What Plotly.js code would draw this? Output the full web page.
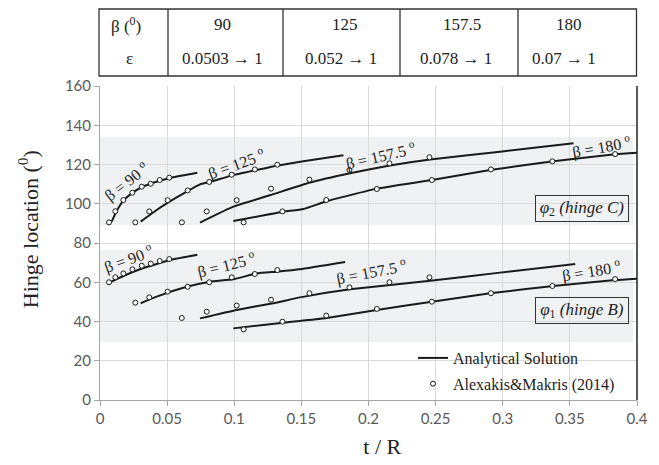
<!DOCTYPE html>
<html>
<head>
<meta charset="utf-8">
<script src="https://cdn.plot.ly/plotly-3.0.1.min.js"></script>
<style>html,body{margin:0;padding:0;background:#fff;}#chart{width:659px;height:465px;}</style>
</head>
<body>
<div id="chart"></div>
<script>
// ---- Table contents ----
const tableHeader = ['β (<sup>0</sup>)', 'ε'];
const tableBeta = ['90', '125', '157.5', '180'];
const tableEps = ['0.0503 → 1', '0.052 → 1', '0.078 → 1', '0.07 → 1'];

// ---- Curve labels ----
const betaLabels = ['β = 90 <sup>o</sup>', 'β = 125 <sup>o</sup>', 'β = 157.5 <sup>o</sup>', 'β = 180 <sup>o</sup>'];
const hingeLabels = ['<i>φ</i><sub>2</sub><i> (hinge C)</i>', '<i>φ</i><sub>1</sub><i> (hinge B)</i>'];

// ---- Analytical solution, hinge C (phi2) ----
const u90x  = [0.0087, 0.0124, 0.0174, 0.0236, 0.031, 0.042, 0.0546, 0.0725];
const u90y  = [90.9, 96.3, 101.6, 105.3, 108.4, 111.2, 113.5, 115.8];
const u125x = [0.0303, 0.0422, 0.0497, 0.0646, 0.0745, 0.082, 0.0993, 0.1167, 0.1316, 0.149, 0.1813];
const u125y = [90.9, 96.8, 100.2, 106.2, 109.9, 111.2, 114.6, 117.2, 119.4, 121.4, 124.7];
const u157x = [0.0745, 0.0993, 0.1266, 0.1565, 0.1863, 0.216, 0.246, 0.298, 0.3527];
const u157y = [90.4, 98.5, 104.3, 110.8, 115.5, 119.5, 122.6, 126.5, 130.8];
const u180x = [0.0993, 0.1366, 0.1515, 0.1689, 0.2062, 0.2472, 0.2906, 0.3377, 0.3837, 0.4];
const u180y = [91.2, 95.9, 97.3, 101.3, 107.7, 112.1, 117.2, 121.6, 125.2, 126.0];

// ---- Alexakis & Makris (2014), hinge C ----
const d_u90x  = [0.0067, 0.0114, 0.0174, 0.0241, 0.0311, 0.0378, 0.0445, 0.0516];
const d_u90y  = [90.5, 96.2, 101.9, 105.6, 108.7, 110.2, 112.1, 113.3];
const d_u125x = [0.0263, 0.0367, 0.0504, 0.0653, 0.0814, 0.0981, 0.1153, 0.1321];
const d_u125y = [90.5, 96.1, 101.8, 106.8, 111.1, 114.8, 117.5, 119.9];
const d_u157x = [0.061, 0.0795, 0.1018, 0.1274, 0.156, 0.1858, 0.2156, 0.2454];
const d_u157y = [90.5, 96.1, 101.8, 107.7, 112.3, 117.2, 120.6, 123.7];
const d_u180x = [0.107, 0.1359, 0.1685, 0.2062, 0.2472, 0.2912, 0.337, 0.3837];
const d_u180y = [90.5, 96.1, 101.9, 107.5, 112.1, 117.5, 121.6, 125.3];

// ---- Analytical solution, hinge B (phi1) ----
const l90x  = [0.0069, 0.0174, 0.0298, 0.0422, 0.0546, 0.0725];
const l90y  = [59.8, 63.2, 66.6, 69.3, 71.7, 74.0];
const l125x = [0.0303, 0.0422, 0.0646, 0.082, 0.0993, 0.1167, 0.1316, 0.149, 0.1826];
const l125y = [49.3, 52.7, 57.7, 60.3, 61.5, 64.5, 65.4, 66.6, 70.3];
const l157x = [0.0745, 0.1018, 0.1291, 0.149, 0.1863, 0.246, 0.298, 0.354];
const l157y = [41.6, 45.9, 49.3, 52.3, 56.4, 60.8, 64.9, 69.3];
const l180x = [0.0993, 0.1366, 0.149, 0.1689, 0.2062, 0.2472, 0.2906, 0.3377, 0.3837, 0.4];
const l180y = [36.5, 39.4, 40.3, 41.8, 45.9, 50.1, 54.4, 58.1, 61.1, 61.8];

// ---- Alexakis & Makris (2014), hinge B ----
const d_l90x  = [0.0067, 0.0114, 0.0174, 0.0241, 0.0311, 0.0378, 0.0445, 0.0516];
const d_l90y  = [60.0, 62.5, 64.5, 66.6, 68.4, 69.5, 70.8, 71.8];
const d_l125x = [0.0263, 0.0367, 0.0504, 0.0653, 0.0814, 0.0981, 0.1153, 0.1321];
const d_l125y = [49.6, 52.3, 55.2, 57.7, 60.0, 62.5, 64.2, 66.2];
const d_l157x = [0.0609, 0.0795, 0.1018, 0.1274, 0.156, 0.1858, 0.2156, 0.2454];
const d_l157y = [41.8, 45.0, 48.1, 51.1, 54.4, 57.4, 60.0, 62.5];
const d_l180x = [0.107, 0.1359, 0.1685, 0.2062, 0.2472, 0.2912, 0.337, 0.3837];
const d_l180y = [36.0, 39.9, 43.0, 46.4, 50.1, 54.4, 58.1, 61.6];

const xTicks = [0, 0.05, 0.1, 0.15, 0.2, 0.25, 0.3, 0.35, 0.4];
const xTickText = ['0', '0.05', '0.1', '0.15', '0.2', '0.25', '0.3', '0.35', '0.4'];
const yTicks = [0, 20, 40, 60, 80, 100, 120, 140, 160];

// ---------------------------------------------
const SERIF = '"Liberation Serif", "Times New Roman", serif';
const SANS = 'Lato, "Open Sans", sans-serif';
const INK = '#1a1a1a';

const lineSets = [[u90x,u90y],[u125x,u125y],[u157x,u157y],[u180x,u180y],[l90x,l90y],[l125x,l125y],[l157x,l157y],[l180x,l180y]];
const dotSets = [[d_u90x,d_u90y],[d_u125x,d_u125y],[d_u157x,d_u157y],[d_u180x,d_u180y],[d_l90x,d_l90y],[d_l125x,d_l125y],[d_l157x,d_l157y],[d_l180x,d_l180y]];

const traces = [];
lineSets.forEach((s, i) => traces.push({
  x: s[0], y: s[1], type: 'scatter', mode: 'lines',
  line: {color: INK, width: 2, shape: 'spline', smoothing: 0.4},
  name: 'Analytical Solution', legendgroup: 'a', showlegend: i === 0, hoverinfo: 'skip'
}));
dotSets.forEach((s, i) => traces.push({
  x: s[0], y: s[1], type: 'scatter', mode: 'markers',
  marker: {symbol: 'circle', size: 5, color: '#ffffff', line: {color: INK, width: 1}},
  name: 'Alexakis&Makris (2014)', legendgroup: 'b', showlegend: i === 0, hoverinfo: 'skip'
}));

// pixel helpers for paper coords (plot area: x 100..637, y 86..400)
const px = v => (v - 100) / 537;
const py = v => (400 - v) / 314;

const shapes = [
  {type: 'rect', xref: 'paper', yref: 'y', x0: 0, x1: 0.993, y0: 89, y1: 134, fillcolor: '#f0f1f3', line: {width: 0}, layer: 'below'},
  {type: 'rect', xref: 'paper', yref: 'y', x0: 0, x1: 0.993, y0: 29.5, y1: 76.5, fillcolor: '#f0f1f3', line: {width: 0}, layer: 'below'},
  {type: 'line', xref: 'paper', yref: 'paper', x0: 1, x1: 1, y0: 0, y1: 1, line: {color: '#222', width: 1.5}},
  {type: 'rect', xref: 'paper', yref: 'paper', x0: px(99), x1: px(636.5), y0: py(76), y1: py(9), line: {color: '#333', width: 1.3}, fillcolor: 'rgba(0,0,0,0)'}
];
[168, 283, 400, 518].forEach(c => shapes.push({type: 'line', xref: 'paper', yref: 'paper', x0: px(c), x1: px(c), y0: py(76), y1: py(9), line: {color: '#333', width: 1.3}}));

const annotations = [];
const tFont = {family: SERIF, size: 17, color: '#222'};
const cell = (x, y, t) => ({xref: 'paper', yref: 'paper', x: px(x), y: py(y), xanchor: 'center', yanchor: 'middle', text: t, showarrow: false, font: tFont});
annotations.push(cell(126, 25, tableHeader[0]));
annotations.push(cell(129, 59, tableHeader[1]));
const betaCx = [222, 345, 461.5, 568.5];
const epsCx = [222, 341, 455.5, 564];
tableBeta.forEach((t, i) => annotations.push(cell(betaCx[i], 25, t)));
tableEps.forEach((t, i) => annotations.push(cell(epsCx[i], 59, t)));

// curve labels (positions in data space)
const lblFont = {family: SERIF, size: 16, color: '#222'};
const labelPos = [
  [0.0194, 111.2, -38, 0], [0.1018, 120.3, -20, 1], [0.2086, 124.8, -13, 2], [0.3737, 129.4, -10, 3],
  [0.0211, 72.2, -20, 0], [0.0944, 68.8, -14, 1], [0.2024, 65.4, -11, 2], [0.3663, 65.9, -9, 3]
];
labelPos.forEach(p => annotations.push({x: p[0], y: p[1], xanchor: 'center', yanchor: 'middle', text: betaLabels[p[3]], textangle: p[2], showarrow: false, font: lblFont}));

[[0.359, 97.8, 0], [0.359, 45.4, 1]].forEach(p => annotations.push({
  x: p[0], y: p[1], xanchor: 'center', yanchor: 'middle', text: hingeLabels[p[2]], showarrow: false,
  font: {family: SERIF, size: 17, color: '#222'},
  bordercolor: '#333', borderwidth: 1, borderpad: 2, width: 88, height: 21
}));

const layout = {
  width: 659, height: 465,
  margin: {l: 100, r: 22, t: 86, b: 65, pad: 0},
  paper_bgcolor: '#ffffff', plot_bgcolor: 'rgba(0,0,0,0)',
  showlegend: true,
  legend: {x: px(413), y: py(341), xanchor: 'left', yanchor: 'top', bgcolor: 'rgba(0,0,0,0)',
           font: {family: SERIF, size: 16, color: '#222'}, tracegroupgap: 2},
  xaxis: {
    range: [0, 0.4], tickvals: xTicks, ticktext: xTickText,
    showgrid: true, gridcolor: '#d9d9d9', gridwidth: 1,
    showline: true, linecolor: '#a6a6a6', linewidth: 1,
    ticks: 'outside', ticklen: 5, tickcolor: '#a6a6a6',
    tickfont: {family: SANS, size: 15, color: '#595959'},
    zeroline: false,
    title: {text: '&nbsp;&nbsp;&nbsp;&nbsp;&nbsp;t / R', font: {family: SERIF, size: 22, color: '#222'}, standoff: 12},
    automargin: false
  },
  yaxis: {
    range: [0, 160], tickvals: yTicks,
    showgrid: true, gridcolor: '#d9d9d9', gridwidth: 1,
    showline: true, linecolor: '#a6a6a6', linewidth: 1,
    ticks: 'outside', ticklen: 5, tickcolor: '#a6a6a6',
    tickfont: {family: SANS, size: 15, color: '#595959'},
    zeroline: false,
    title: {text: '&nbsp;&nbsp;&nbsp;&nbsp;&nbsp;Hinge location (<sup>0</sup>)', font: {family: SERIF, size: 22, color: '#222'}, standoff: 20},
    automargin: false
  },
  shapes: shapes,
  annotations: annotations
};

Plotly.newPlot('chart', traces, layout, {displayModeBar: false, staticPlot: true});
</script>
</body>
</html>
